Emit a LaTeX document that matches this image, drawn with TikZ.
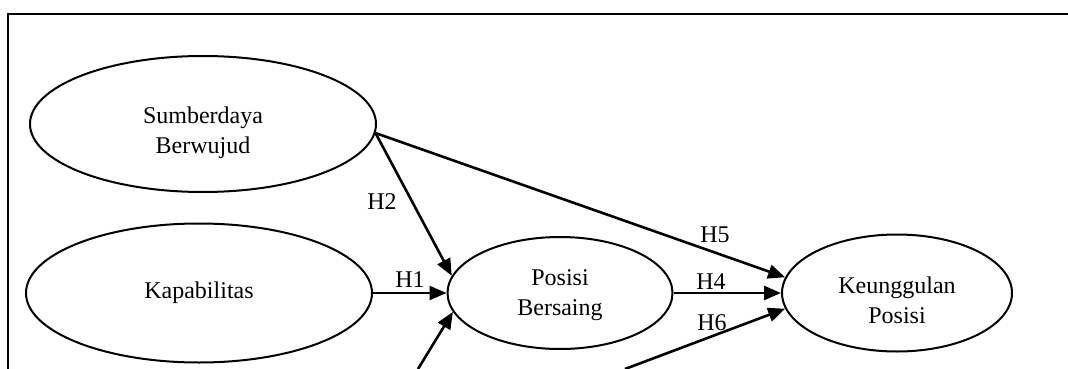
\documentclass[tikz,border=0pt]{standalone}
\usepackage{fontspec}
\setmainfont{Liberation Serif}
\usetikzlibrary{shapes.geometric,arrows.meta}
\begin{document}
\begin{tikzpicture}[x=1pt,y=-1pt,
  construct/.style={ellipse,draw,line width=2pt,inner sep=0pt,align=center,
    font=\fontsize{24}{30}\selectfont},
  link/.style={line width=2.6pt,-{Triangle[length=17pt,width=14pt]}},
  hyp/.style={inner sep=0pt,font=\fontsize{24}{30}\selectfont},
  frame/.style={line width=2.2pt}]
\useasboundingbox (0,0) rectangle (1068,369);
\clip (0,0) rectangle (1068,369);
% frame
\coordinate (f1) at (8,369);
\coordinate (f2) at (8,14);
\coordinate (f3) at (1068,14);
\draw[frame] (f1) -- (f2) -- (f3);
% constructs
\node[construct,minimum width=346pt,minimum height=136pt] (sb) at (203,124) {\rule{0pt}{34pt}Sumberdaya\\Berwujud};
\node[construct,minimum width=346pt,minimum height=139pt] (kap) at (199,293) {Kapabilitas};
\node[construct,minimum width=225pt,minimum height=112pt] (pb) at (560,293) {\rule{0pt}{21pt}Posisi\\Bersaing};
\node[construct,minimum width=230pt,minimum height=117pt] (ku) at (897,293) {\rule{0pt}{32pt}Keunggulan\\Posisi};
% free ends of cut-off arrows
\coordinate (b1) at (418,369);
\coordinate (b2) at (625,369);
% arrows
\draw[link] (kap.east) -- (pb.west);
\draw[link] (sb.-3) -- (pb.171);
\draw[link] (sb.-3) -- (ku.172);
\draw[link] (pb.east) -- (ku.west);
\draw[link] (b2) -- (ku.188);
\draw[link] (b1) -- (pb.190);
% labels
\node[hyp] (h1) at (410,280) {H1};
\node[hyp] (h2) at (382,202) {H2};
\node[hyp] (h5) at (715,235) {H5};
\node[hyp] (h4) at (711,282) {H4};
\node[hyp] (h6) at (712,323) {H6};
\end{tikzpicture}
\end{document}
